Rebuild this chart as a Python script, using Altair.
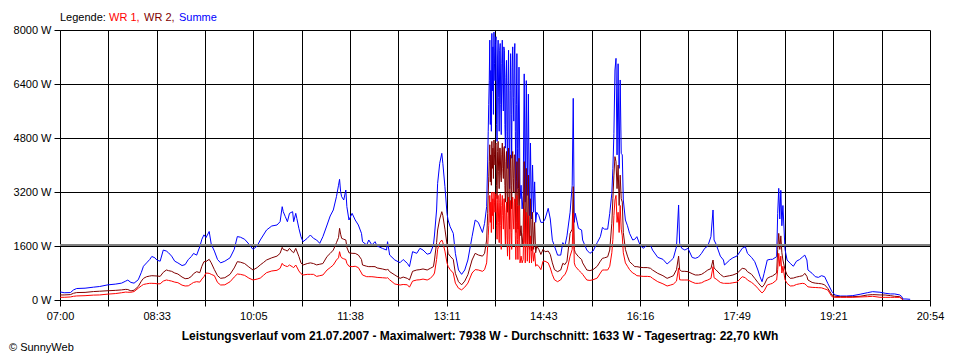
import altair as alt
import pandas as pd

# ---------------- data ----------------
TIMES = [
    "07:00", "07:04", "07:10", "07:13", "07:16", "07:24", "07:32", "07:38", "07:46", "07:53",
    "07:59", "08:03", "08:05", "08:08", "08:11", "08:15", "08:18", "08:20", "08:23", "08:26",
    "08:28", "08:31", "08:33", "08:36", "08:39", "08:42", "08:44", "08:47", "08:50", "08:53",
    "08:57", "09:00", "09:03", "09:06", "09:08", "09:11", "09:14", "09:16", "09:18", "09:20",
    "09:23", "09:25", "09:28", "09:31", "09:34", "09:38", "09:43", "09:47", "09:50", "09:53",
    "09:57", "10:01", "10:05", "10:09", "10:12", "10:15", "10:18", "10:23", "10:28", "10:31",
    "10:33", "10:34", "10:36", "10:38", "10:40", "10:43", "10:44", "10:46", "10:47", "10:49",
    "10:51", "10:53", "10:57", "11:00", "11:03", "11:06", "11:09", "11:12", "11:16", "11:19",
    "11:22", "11:25", "11:27", "11:28", "11:29", "11:30", "11:32", "11:34", "11:35", "11:37",
    "11:40", "11:43", "11:46", "11:49", "11:50", "11:54", "11:56", "11:59", "12:02", "12:04",
    "12:09", "12:13", "12:14", "12:16", "12:21", "12:26", "12:29", "12:33", "12:35", "12:38",
    "12:42", "12:45", "12:48", "12:52", "12:55", "12:58", "12:59", "13:01", "13:02", "13:04",
    "13:06", "13:07", "13:09", "13:11", "13:12", "13:14", "13:17", "13:19", "13:22", "13:25",
    "13:28", "13:31", "13:35", "13:38", "13:41", "13:45", "13:47", "13:49",
    "13:50:00", "13:50:30", "13:51:00", "13:51:30", "13:52:00", "13:52:30", "13:53:00", "13:53:30",
    "13:54:00", "13:54:30", "13:55:00", "13:55:30", "13:56:00", "13:56:30", "13:57:00", "13:57:30",
    "13:58:00", "13:58:30", "13:59:00", "13:59:30", "14:00:00", "14:00:30", "14:01:00", "14:01:30",
    "14:02:00", "14:02:30", "14:03:00", "14:03:30", "14:04:00", "14:04:30", "14:05:00", "14:05:30",
    "14:06:00", "14:06:30", "14:07:00", "14:07:30", "14:08:00", "14:08:30", "14:09:00", "14:09:30",
    "14:10:00", "14:10:30", "14:11:00", "14:11:30", "14:12:00", "14:12:30", "14:13:00", "14:13:30",
    "14:14:00", "14:14:30", "14:15:00", "14:15:30", "14:16:00", "14:16:30", "14:17:00", "14:17:30",
    "14:18:00", "14:18:30", "14:19:00", "14:19:30", "14:20:00",
    "14:21", "14:22", "14:23", "14:24", "14:25", "14:26", "14:27", "14:28", "14:29",
    "14:30", "14:31", "14:32", "14:33", "14:34", "14:35", "14:36", "14:37", "14:39", "14:41",
    "14:43", "14:45", "14:48", "14:50", "14:52", "14:54", "14:57", "15:00", "15:02", "15:04",
    "15:06", "15:09", "15:11", "15:12", "15:13", "15:14", "15:17", "15:20", "15:21", "15:25",
    "15:28", "15:31", "15:35", "15:38", "15:40", "15:42", "15:45", "15:47", "15:49", "15:50",
    "15:51", "15:52", "15:53", "15:54", "15:55", "15:56", "15:57", "15:58", "15:59", "16:00",
    "16:02", "16:04", "16:06", "16:09", "16:11", "16:13", "16:16", "16:19", "16:23", "16:26",
    "16:28", "16:33", "16:38", "16:42", "16:45", "16:48", "16:51", "16:53", "16:54", "16:56",
    "16:59", "17:02", "17:06", "17:09", "17:12", "17:15", "17:18", "17:21", "17:24", "17:26",
    "17:27", "17:29", "17:33", "17:36", "17:37", "17:42", "17:45", "17:49", "17:54", "17:57",
    "17:59", "18:03", "18:06", "18:09", "18:11", "18:13", "18:15", "18:18", "18:21", "18:23",
    "18:27", "18:28", "18:29", "18:30", "18:31", "18:32", "18:33", "18:35", "18:37", "18:40",
    "18:43", "18:46", "18:49", "18:52", "18:54", "18:56", "18:57", "19:01", "19:04", "19:07",
    "19:10", "19:13", "19:16", "19:20", "19:23", "19:28", "19:34", "19:40", "19:47", "19:54",
    "19:59", "20:06", "20:11", "20:16", "20:20", "20:25", "20:27", "20:28", "20:31", "20:35",
]

SUMME = [
    240, 215, 220, 300, 340, 350, 380, 400, 450, 470,
    500, 560, 590, 520, 500, 600, 820, 1000, 1100, 1200,
    1290, 1250, 1180, 1150, 1480, 1450, 1400, 1300, 1150, 1100,
    1020, 1050, 1200, 1290, 1380, 1330, 1580, 1800, 1930, 1850,
    2030, 1650, 1450, 1200, 1100, 1150, 1250, 1500, 1880, 1860,
    1800, 1660, 1500, 1600, 1778, 1926, 2074, 2193, 2222, 2320,
    2765, 2617, 2469, 2320, 2568, 2617, 2320, 2568, 2420, 2123,
    1876, 1728, 1827, 1926, 1827, 1778, 1679, 1876, 2222, 2489,
    2667, 3062, 3400, 3575, 3210, 3062, 2963, 3259, 2765, 2370,
    2568, 2370, 2222, 1975, 1728, 1630, 1778, 1630, 1728, 1600,
    1531, 1481, 1728, 1333, 1185, 1106, 1200, 1086, 988, 1432,
    1383, 1531, 1481, 1358, 1383, 1630, 1926, 2667, 3457, 4050,
    4346, 4050, 3358, 2568, 2370, 2172, 1975, 1383, 889, 760,
    889, 1185, 1876, 2370, 2300, 2000, 2270, 2765,
    4150, 5000, 5800, 6500, 7700, 5200, 6800, 5000,
    7900, 6200, 7500, 5500, 7938, 7000, 6500, 7600,
    7800, 5200, 4700, 7200, 7700, 6000, 5000, 7400,
    7600, 5800, 4900, 7000, 7700, 6400, 5600, 7500,
    7400, 5200, 4500, 6600, 7100, 5000, 3900, 6500,
    7400, 4800, 3300, 6200, 7300, 5500, 4200, 6900,
    7500, 6000, 5300, 7200, 7600, 5000, 3200, 5800,
    7300, 4500, 3300, 5600, 6900,
    3000, 3400, 2700, 3100, 6700, 2900, 6500, 3100, 6100,
    2500, 4650, 2400, 4000, 2600, 3500, 2300, 2600, 2500, 2300,
    2300, 2400, 2716, 2400, 1770, 1600, 1330, 1330, 1700, 1600,
    1900, 2600, 3400, 5975, 2300, 2568, 2123, 2074, 1778, 1481,
    1383, 1450, 1700, 1876, 2150, 2100, 2100, 2568, 3160, 3900,
    4938, 6815, 7160, 4300, 7000, 3900, 6519, 4346, 4300, 2963,
    2370, 2200, 1975, 1778, 1800, 1876, 1630, 1531, 1630, 1630,
    1481, 1264, 1205, 1067, 1150, 1240, 1580, 2815, 1679, 1531,
    1481, 1531, 1260, 1235, 1270, 1383, 1530, 1600, 1876, 2667,
    1778, 1650, 1300, 1185, 1037, 1185, 1250, 1304, 1531, 1580,
    1383, 1260, 1136, 889, 691, 543, 790, 1185, 1205, 1205,
    1284, 2568, 3308, 2400, 3250, 2200, 2800, 1500, 1185, 1086,
    1000, 1150, 1200, 1280, 1330, 1185, 889, 790, 691, 670,
    720, 691, 494, 247, 148, 118, 118, 130, 170, 217,
    247, 230, 200, 180, 180, 150, 100, 30, 30, 20,
]

WR2 = [
    150, 150, 160, 200, 220, 225, 250, 260, 275, 285,
    300, 315, 310, 270, 290, 400, 560, 640, 690, 710,
    720, 715, 711, 700, 820, 889, 870, 850, 800, 770,
    680, 632, 640, 700, 780, 839, 810, 1000, 1136, 1140,
    1205, 1100, 900, 720, 642, 660, 760, 950, 1136, 1120,
    1080, 980, 889, 960, 1040, 1110, 1185, 1250, 1300, 1383,
    1560, 1500, 1480, 1450, 1530, 1420, 1400, 1530, 1450, 1290,
    1100, 1037, 1080, 1100, 1080, 1040, 1060, 1080, 1290, 1380,
    1480, 1699, 1850, 2123, 1950, 1827, 1800, 1778, 1560, 1400,
    1383, 1380, 1333, 1200, 1037, 1000, 988, 990, 988, 950,
    920, 889, 920, 840, 741, 642, 680, 640, 593, 850,
    889, 900, 920, 889, 938, 988, 1185, 1700, 2074, 2400,
    2617, 2500, 2100, 1650, 1383, 1300, 1200, 790, 543, 450,
    560, 750, 1185, 1383, 1333, 1300, 1383, 1778,
    2568, 3100, 3650, 4100, 4600, 3500, 4300, 3400,
    4700, 3900, 4500, 3600, 4740, 4300, 4000, 4600,
    4650, 3400, 3000, 4400, 4700, 3800, 3300, 4500,
    4500, 3700, 3500, 4300, 4650, 3900, 3600, 4500,
    4550, 3400, 2900, 4100, 4400, 3200, 2600, 4000,
    4500, 3000, 2100, 3900, 4300, 3400, 2700, 4200,
    4400, 3600, 3200, 4300, 4300, 3000, 2000, 3500,
    4100, 2800, 2100, 3300, 4200,
    1900, 2200, 1600, 2000, 4100, 1700, 3900, 1600, 3700,
    1500, 3000, 1450, 2600, 1500, 2300, 1400, 1600, 1500, 1350,
    1500, 1430, 1450, 1350, 1100, 900, 840, 889, 1086, 1050,
    1150, 1975, 2100, 3358, 1500, 1400, 1284, 1200, 1100, 889,
    870, 900, 1000, 1150, 1235, 1250, 1280, 1481, 2272, 3000,
    3700, 4247, 4100, 3300, 4000, 2800, 3700, 3000, 2900, 2000,
    1500, 1300, 1136, 1050, 988, 988, 970, 960, 960, 940,
    889, 790, 720, 642, 680, 720, 900, 1300, 900, 850,
    850, 839, 780, 741, 741, 760, 820, 889, 930, 1185,
    950, 889, 760, 691, 691, 720, 740, 790, 938, 920,
    839, 760, 642, 520, 444, 380, 450, 642, 691, 711,
    800, 1500, 1975, 1500, 1900, 1400, 1185, 900, 741, 642,
    650, 680, 700, 720, 790, 700, 593, 520, 500, 490,
    480, 450, 346, 148, 110, 99, 99, 99, 110, 148,
    160, 150, 148, 130, 110, 99, 50, 0, None, None,
]

WR1 = [
    80, 80, 90, 110, 120, 128, 145, 150, 175, 190,
    215, 235, 230, 230, 250, 350, 420, 460, 480, 494,
    494, 490, 480, 480, 560, 593, 580, 560, 530, 513,
    440, 415, 420, 480, 520, 543, 530, 620, 691, 800,
    790, 760, 720, 520, 444, 450, 540, 680, 770, 760,
    730, 650, 593, 620, 650, 730, 810, 860, 880, 938,
    1086, 1040, 1010, 990, 1037, 980, 960, 1037, 980, 860,
    780, 741, 760, 760, 760, 700, 720, 740, 889, 960,
    1037, 1185, 1250, 1432, 1300, 1250, 1220, 1200, 1086, 1000,
    988, 1000, 960, 800, 741, 691, 691, 690, 680, 670,
    660, 650, 660, 600, 474, 444, 460, 450, 380, 560,
    593, 600, 620, 593, 640, 741, 800, 1200, 1500, 1700,
    1778, 1700, 1450, 1100, 1000, 900, 800, 500, 350, 300,
    380, 500, 800, 900, 889, 850, 900, 1100,
    1600, 1900, 2200, 2600, 3100, 2300, 2900, 2000,
    3200, 2500, 3000, 2100, 3200, 2900, 2600, 3100,
    3150, 2200, 1800, 2900, 3100, 2300, 1700, 2900,
    3150, 2200, 1500, 2800, 3100, 2500, 2100, 3000,
    3000, 2100, 1600, 2600, 2900, 1900, 1300, 2500,
    3050, 1800, 1200, 2400, 2950, 2000, 1500, 2700,
    3050, 2400, 2100, 2900, 3000, 1900, 1200, 2300,
    3100, 1800, 1200, 2200, 2800,
    1100, 1300, 1100, 1200, 2700, 1100, 2600, 1150, 2500,
    1100, 1900, 1100, 1600, 1150, 1400, 1000, 1050, 1000, 900,
    1150, 1150, 1100, 950, 750, 600, 543, 600, 700, 750,
    889, 1300, 1500, 2568, 1100, 1000, 889, 800, 760, 593,
    580, 600, 650, 800, 889, 889, 889, 1000, 1400, 1800,
    2500, 2963, 3100, 2300, 2600, 2000, 2800, 2100, 1900, 1400,
    1100, 1000, 900, 800, 770, 720, 711, 700, 700, 690,
    642, 543, 480, 415, 440, 470, 560, 950, 600, 593,
    593, 593, 530, 494, 494, 510, 560, 593, 640, 988,
    660, 620, 520, 494, 494, 494, 510, 530, 691, 660,
    593, 520, 444, 346, 270, 210, 270, 444, 474, 494,
    593, 900, 1383, 1000, 1300, 800, 1000, 600, 494, 415,
    420, 460, 480, 494, 480, 420, 390, 375, 370, 365,
    360, 330, 296, 99, 79, 79, 79, 79, 90, 99,
    110, 80, 79, 79, 79, 79, 30, 0, None, None,
]

X_LABELS = ["07:00", "08:33", "10:05", "11:38", "13:11",
            "14:43", "16:16", "17:49", "19:21", "20:54"]
Y_TICKS = [0, 1600, 3200, 4800, 6400, 8000]
AVG_W = 1633
MAX_W = 7938
DAY = "21.07.2007"
YIELD_KWH = "22,70"
LEGEND_PARTS = ["Legende:", "WR 1,", "WR 2,", "Summe"]

# ---------------- chart ----------------
FONT = "Liberation Sans"
BLUE, DRED, RED = "#0000FF", "#800000", "#FF0000"
START = 7 * 60
SPAN = 20 * 60 + 54 - START  # 834 minutes


def minutes(s):
    parts = [int(p) for p in s.split(":")]
    sec = parts[2] if len(parts) > 2 else 0
    return parts[0] * 60 + parts[1] + sec / 60 - START


df = pd.DataFrame({
    "t": [minutes(s) for s in TIMES],
    "Summe": SUMME,
    "WR2": WR2,
    "WR1": WR1,
})

grid_x = [SPAN * i / 18 for i in range(19)]
label_expr = " : ".join(
    f"round(datum.value) == {round(SPAN * i / 9)} ? '{lab}'" for i, lab in enumerate(X_LABELS)
) + " : ''"

x_axis = alt.Axis(values=grid_x, labelExpr=label_expr, grid=True, gridColor="black",
                  gridOpacity=1, gridWidth=1, domainColor="black", tickColor="black",
                  tickSize=6, labelPadding=4, labelOverlap=False, labelFlush=False,
                  title=None)
y_axis = alt.Axis(values=Y_TICKS, labelExpr="datum.value + ' W'", grid=True,
                  gridColor="black", gridOpacity=1, gridWidth=1, domainColor="black",
                  tickColor="black", tickSize=6, labelPadding=3, title=None)
x_scale = alt.Scale(domain=[0, SPAN], nice=False, zero=False)
y_scale = alt.Scale(domain=[0, 8000], nice=False)


def series(field, color):
    return alt.Chart(df).mark_line(color=color, strokeWidth=1, clip=True).encode(
        x=alt.X("t:Q", scale=x_scale, axis=x_axis),
        y=alt.Y(f"{field}:Q", scale=y_scale, axis=y_axis),
    )


avg = alt.Chart(pd.DataFrame({"v": [AVG_W]})).mark_rule(
    color="#808080", strokeWidth=2
).encode(y=alt.Y("v:Q", scale=y_scale, axis=y_axis))

one = pd.DataFrame({"a": [0]})


def label(text, x, y, color="black", align="left", bold=False, size=11):
    return alt.Chart(one).mark_text(
        align=align, baseline="alphabetic", font=FONT, fontSize=size,
        fontWeight="bold" if bold else "normal", color=color,
    ).encode(x=alt.value(x), y=alt.value(y), text=alt.value(text))


legend_colors = ["black", RED, DRED, BLUE]
legend_x = [0, 49, 84, 119]
legend = [label(t, x, -9, c) for t, x, c in zip(LEGEND_PARTS, legend_x, legend_colors)]

title_text = (f"Leistungsverlauf vom {DAY} - Maximalwert: {MAX_W} W - "
              f"Durchschnitt: {AVG_W} W - Tagesertrag: {YIELD_KWH} kWh")
title = label(title_text, 420, 310, align="center", bold=True, size=12)
copyright_ = label("© SunnyWeb", -51, 321)

chart = alt.layer(
    series("Summe", BLUE), series("WR2", DRED), series("WR1", RED), avg,
    *legend, title, copyright_,
).properties(
    width=870, height=270,
    padding={"left": 52, "top": 22, "right": 22, "bottom": 58},
    autosize=alt.AutoSizeParams(type="none"),
).configure_view(strokeWidth=0).configure_axis(
    labelFont=FONT, labelFontSize=11, labelColor="black"
)

chart.save("out.html", embed_options={"renderer": "svg", "actions": False})
